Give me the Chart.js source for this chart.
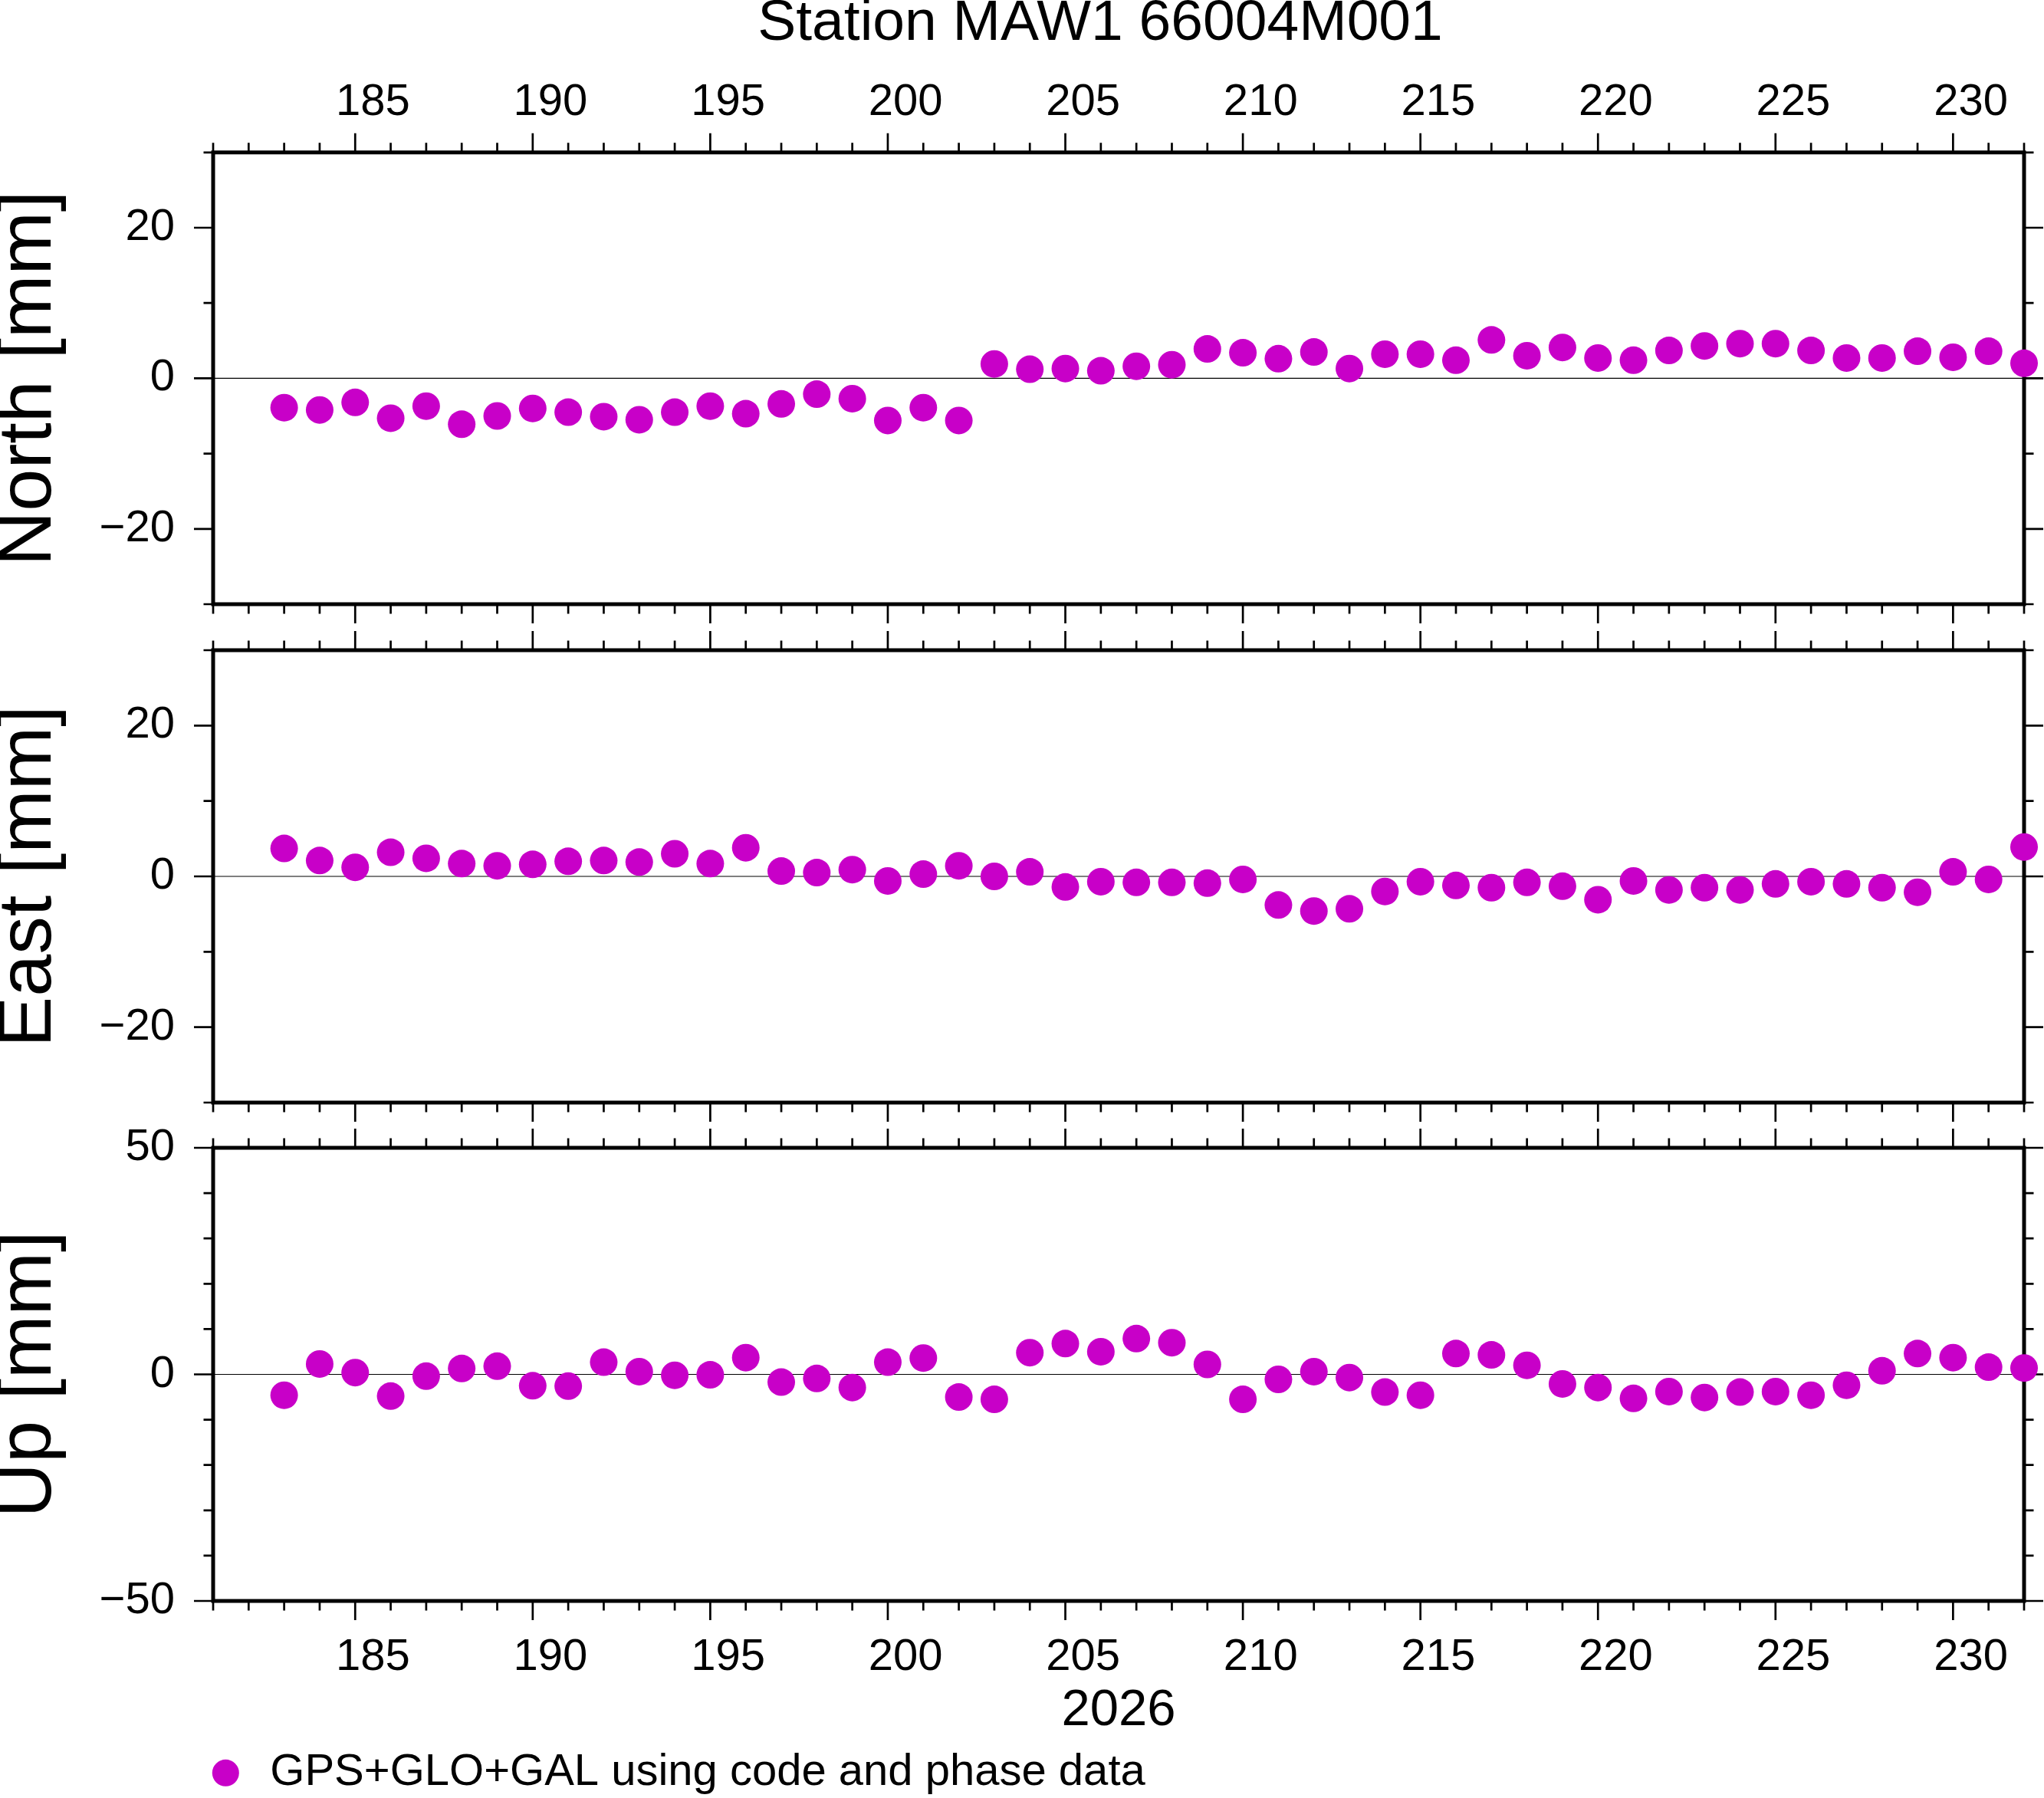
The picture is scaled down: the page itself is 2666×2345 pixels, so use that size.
<!DOCTYPE html>
<html><head><meta charset="utf-8">
<script src="https://cdn.jsdelivr.net/npm/chart.js@4.4.1/dist/chart.umd.min.js"></script>
<style>
html,body{margin:0;padding:0;background:#fff;overflow:hidden;}
#wrap{position:relative;width:2666px;height:2345px;overflow:hidden;background:#fff;}
canvas{position:absolute;left:0;}
</style></head><body>
<div id="wrap">
<canvas id="cN" width="2666" height="820" style="top:0px;width:2666px;height:820px"></canvas>
<canvas id="cE" width="2666" height="660" style="top:810px;width:2666px;height:660px"></canvas>
<canvas id="cU" width="2666" height="895" style="top:1460px;width:2666px;height:895px"></canvas>
</div>
<script>
// ---- data (day of year 2026) ----
const days = [183,184,185,186,187,188,189,190,191,192,193,194,195,196,197,198,199,200,201,202,
              203,204,205,206,207,208,209,210,211,212,213,214,215,216,217,218,219,220,221,222,
              223,224,225,226,227,228,229,230,231,232];
const north = [-3.9,-4.2,-3.2,-5.3,-3.7,-6.1,-5.0,-4.0,-4.5,-5.1,-5.5,-4.5,-3.7,-4.7,-3.4,-2.1,-2.7,-5.6,-3.9,-5.6,
               1.9,1.2,1.3,1.0,1.6,1.8,3.9,3.4,2.6,3.5,1.3,3.2,3.2,2.4,5.1,3.0,4.1,2.7,2.4,3.7,
               4.3,4.6,4.6,3.7,2.7,2.7,3.6,2.8,3.6,2.0];
const east = [3.7,2.1,1.2,3.2,2.4,1.7,1.4,1.6,2.0,2.1,1.9,3.0,1.7,3.8,0.7,0.5,0.9,-0.6,0.3,1.4,
              0.0,0.6,-1.4,-0.7,-0.8,-0.8,-0.9,-0.4,-3.8,-4.6,-4.3,-2.0,-0.7,-1.2,-1.5,-0.8,-1.3,-3.1,-0.6,-1.8,
              -1.5,-1.8,-1.0,-0.7,-1.0,-1.5,-2.1,0.6,-0.4,3.9];
const up = [-4.6,2.3,0.4,-4.8,-0.4,1.3,1.8,-2.5,-2.6,2.7,0.6,-0.2,-0.1,3.7,-1.7,-0.9,-2.9,2.7,3.6,-5.0,
            -5.5,4.8,6.8,5.0,7.9,7.0,2.2,-5.5,-1.1,0.6,-0.7,-3.9,-4.6,4.6,4.3,2.0,-2.1,-2.9,-5.3,-3.8,
            -5.1,-3.9,-3.8,-4.6,-2.4,0.8,4.6,3.7,1.6,1.4];
const dayTickLabels = [185,190,195,200,205,210,215,220,225,230];
const neTickLabels = [-20,0,20];
const upTickLabels = [-50,0,50];
const titleText = 'Station MAW1 66004M001';
const yearText = '2026';
const legendText = 'GPS+GLO+GAL using code and phase data';
const axisTitles = ['North [mm]','East [mm]','Up [mm]'];

const magenta = '#C800C8';
Chart.defaults.font.family = "'Liberation Sans', Arial, Helvetica, sans-serif";
Chart.defaults.color = '#000';

const framePlugin = {
  id: 'gmtFrame',
  afterLayout(chart, args, opts) {
    // place the legend row under the left edge of the frame like the original and
    // let its clip box reach the canvas bottom so no glyph is cut
    if (chart.legend && chart.legend.options.display) {
      if (opts.legendLeft !== undefined) chart.legend.left = opts.legendLeft;
      chart.legend.bottom = chart.height;
      chart.legend.height = chart.legend.bottom - chart.legend.top;
      chart.legend.width = chart.legend.right - chart.legend.left;
    }
  },
  beforeDatasetsDraw(chart, args, opts) {
    const ctx = chart.ctx, a = chart.chartArea, x = chart.scales.x, y = chart.scales.y;
    ctx.save();
    ctx.strokeStyle = '#000';
    ctx.lineWidth = 1.2;
    const y0 = y.getPixelForValue(0);
    ctx.beginPath(); ctx.moveTo(a.left, y0); ctx.lineTo(a.right, y0); ctx.stroke();
    ctx.lineWidth = 2.7; ctx.lineCap = 'butt';
    ctx.beginPath();
    for (let d = x.min; d <= x.max; d++) {
      const px = x.getPixelForValue(d);
      const len = d % 5 === 0 ? 25 : 12.5;
      ctx.moveTo(px, a.top); ctx.lineTo(px, a.top - len);
      ctx.moveTo(px, a.bottom); ctx.lineTo(px, a.bottom + len);
    }
    for (let v = y.min; v <= y.max; v += opts.minorStep) {
      const py = y.getPixelForValue(v);
      const len = v % opts.majorStep === 0 ? 25 : 12.5;
      ctx.moveTo(a.left, py); ctx.lineTo(a.left - len, py);
      ctx.moveTo(a.right, py); ctx.lineTo(a.right + len, py);
    }
    ctx.stroke();
    ctx.lineWidth = 5;
    ctx.lineJoin = 'miter';
    ctx.strokeRect(a.left, a.top, a.right - a.left, a.bottom - a.top);
    ctx.restore();
  }
};

const fmt = v => v < 0 ? '\u2212' + Math.abs(v) : String(v);
const noPad = s => { s.paddingLeft = 0; s.paddingRight = 0; s.paddingTop = 0; s.paddingBottom = 0; };

function makeChart(id, values, c) {
  const scales = {
    x: {
      type: 'linear', min: 181, max: 232, position: c.xPos, display: c.xShow,
      grid: {display: false, drawTicks: false}, border: {display: false},
      afterBuildTicks: s => { s.ticks = dayTickLabels.map(v => ({value: v + 0.5})); },
      afterFit: s => { s.height = c.xHeight; noPad(s); },
      ticks: { autoSkip: false, maxRotation: 0, minRotation: 0, padding: c.xTickPad,
               color: '#000', font: {size: 58}, callback: v => String(Math.floor(v)) },
      title: c.xTitle ? { display: true, text: yearText, color: '#000',
               font: {size: 67, weight: 'normal'}, padding: {top: 0, bottom: c.xTitlePad} } : {display: false}
    },
    y: {
      type: 'linear', min: c.yMin, max: c.yMax, position: 'left',
      grid: {display: false, drawTicks: false}, border: {display: false},
      afterBuildTicks: s => { s.ticks = c.yTicks.map(v => ({value: v})); },
      afterFit: s => { s.width = 278; noPad(s); },
      ticks: { autoSkip: false, padding: 50, color: '#000', font: {size: 58}, callback: v => fmt(v) },
      title: { display: true, text: c.yTitle, color: '#000',
               font: {size: 99, weight: 'normal', lineHeight: 0.76},
               padding: {top: 0.8, bottom: 0} }
    }
  };
  if (c.rightBox) {
    // empty spacer on the right so that the page title is centred like the original
    scales.yRight = {
      type: 'linear', position: 'right', display: true,
      grid: {display: false, drawTicks: false}, border: {display: false},
      ticks: {display: false}, title: {display: false},
      afterFit: s => { s.width = c.rightBox; noPad(s); }
    };
  }
  return new Chart(document.getElementById(id), {
    type: 'scatter',
    data: { datasets: [{
      label: legendText,
      data: days.map((d, i) => ({x: d, y: values[i]})),
      backgroundColor: magenta, borderWidth: 0, pointStyle: 'circle',
      pointRadius: 18, pointHoverRadius: 18, clip: false
    }]},
    options: {
      responsive: false, animation: false, devicePixelRatio: 1, events: [],
      layout: { padding: c.padding, autoPadding: false },
      scales: scales,
      plugins: {
        tooltip: {enabled: false},
        gmtFrame: {minorStep: 10, majorStep: c.majorStep, legendLeft: c.legendLeft},
        title: c.title ? { display: true, text: titleText, color: '#000', fullSize: true,
                 font: {size: 75, weight: 'normal', lineHeight: 0.8}, padding: {top: 1.5, bottom: 0} } : {display: false},
        legend: c.legend ? {
          display: true, position: 'bottom', align: 'start', fullSize: false,
          labels: { usePointStyle: true, boxWidth: 58, boxHeight: 24.75, padding: 0,
                    color: '#000', font: {size: 58, weight: 'normal'} }
        } : {display: false}
      }
    },
    plugins: [framePlugin]
  });
}

makeChart('cN', north, {
  padding: {left: 0, right: -204, top: 0, bottom: 32}, rightBox: 230,
  xPos: 'top', xShow: true, xHeight: 137.3, xTickPad: 30.5, xTitle: false,
  yMin: -30, yMax: 30, yTicks: neTickLabels, yTitle: axisTitles[0],
  majorStep: 20, title: true, legend: false
});
makeChart('cE', east, {
  padding: {left: 0, right: 26, top: 38, bottom: 32},
  xPos: 'bottom', xShow: false, xHeight: 0, xTickPad: 0, xTitle: false,
  yMin: -30, yMax: 30, yTicks: neTickLabels, yTitle: axisTitles[1],
  majorStep: 20, title: false, legend: false
});
makeChart('cU', up, {
  padding: {left: 0, right: 26, top: 37, bottom: 3.7},
  xPos: 'bottom', xShow: true, xHeight: 195.3, xTickPad: 39, xTitle: true, xTitlePad: 11.5,
  yMin: -50, yMax: 50, yTicks: upTickLabels, yTitle: axisTitles[2],
  majorStep: 50, title: false, legend: true, legendLeft: 265.3
});
</script>
</body></html>
